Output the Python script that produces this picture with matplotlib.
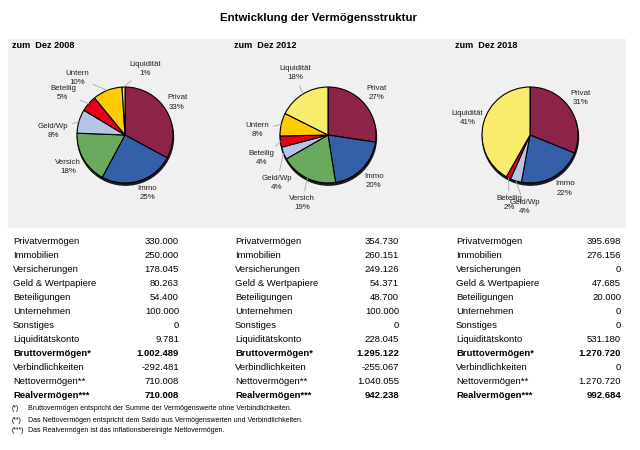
import matplotlib
matplotlib.use("Agg")
import matplotlib.pyplot as plt
import numpy as np

plt.rcParams['font.family'] = ['Liberation Sans', 'DejaVu Sans']

W, H = 640, 450

# Daten
jahre = ["zum  Dez 2008", "zum  Dez 2012", "zum  Dez 2018"]
kurz = ["Privat", "Immo", "Versich", "Geld/Wp", "Beteilig", "Untern", "Liquidität"]
farben = ["#8e2349", "#3460a8", "#6aaa5f", "#b4c6e8", "#e30016", "#ffcc00", "#f9ec6c"]

pie_2008 = [330000, 250000, 178045, 80263, 54400, 100000, 9781]
pie_2012 = [354730, 260151, 249126, 54371, 48700, 100000, 228045]
pie_2018 = [395698, 276156, 0, 47685, 20000, 0, 531180]
pct_2008 = [33, 25, 18, 8, 5, 10, 1]
pct_2012 = [27, 20, 19, 4, 4, 8, 18]
pct_2018 = [31, 22, 0, 4, 2, 0, 41]

zeilen = ["Privatvermögen", "Immobilien", "Versicherungen", "Geld & Wertpapiere",
          "Beteiligungen", "Unternehmen", "Sonstiges", "Liquiditätskonto",
          "Bruttovermögen*", "Verbindlichkeiten", "Nettovermögen**", "Realvermögen***"]
fett = ["Bruttovermögen*", "Realvermögen***"]
tab_2008 = [330000, 250000, 178045, 80263, 54400, 100000, 0, 9781, 1002489, -292481, 710008, 710008]
tab_2012 = [354730, 260151, 249126, 54371, 48700, 100000, 0, 228045, 1295122, -255067, 1040055, 942238]
tab_2018 = [395698, 276156, 0, 47685, 20000, 0, 0, 531180, 1270720, 0, 1270720, 992684]

fussnoten = [("(*)", "Bruttovermögen entspricht der Summe der Vermögenswerte ohne Verbindlichkeiten."),
             ("(**)", "Das Nettovermögen entspricht dem Saldo aus Vermögenswerten und Verbindlichkeiten."),
             ("(***)", "Das Realvermögen ist das inflationsbereinigte Nettovermögen.")]

# Label-Platzierung (Winkel, Abstand, Linie)
lab_2008 = [(32, 1.28, 0), (-69, 1.3, 0), (-151, 1.36, 0), (177, 1.5, 1),
            (146, 1.56, 1), (130, 1.56, 1), (73, 1.44, 1)]
lab_2012 = [(41, 1.33, 0), (-45, 1.35, 0), (-111, 1.52, 1), (-137, 1.46, 1),
            (-161, 1.46, 1), (176, 1.48, 1), (118, 1.46, 1)]
lab_2018 = [(36, 1.31, 0), (-57, 1.33, 0), None, (-94, 1.5, 1),
            (-107, 1.48, 1), None, (165, 1.35, 0)]


def fx(x):
    return x / W


def fy(y):
    return 1 - y / H


def fmt(v):
    return f"{v:,}".replace(",", ".")


fig = plt.figure(figsize=(6.4, 4.5), dpi=100)
hg = plt.Rectangle((fx(8), fy(227)), fx(625) - fx(8), fy(39) - fy(227),
                   transform=fig.transFigure, color="#f0f0f0", zorder=-10)
fig.patches.append(hg)

fig.text(fx(318), fy(18), "Entwicklung der Vermögensstruktur", ha="center", va="center",
         fontsize=8.2, fontweight="bold")

zentren = [(125, 135), (328, 135), (530, 135)]
head_x = [12, 234, 455]
wert_x = [179, 399, 621]
R = 48
L = 1.9

for k, (werte, pcts, labs) in enumerate([(pie_2008, pct_2008, lab_2008),
                                        (pie_2012, pct_2012, lab_2012),
                                        (pie_2018, pct_2018, lab_2018)]):
    fig.text(fx(head_x[k]), fy(45), jahre[k], ha="left", va="center",
             fontsize=6.6, fontweight="bold")

    cx, cy = zentren[k]
    ax = fig.add_axes([fx(cx - R * L), fy(cy + R * L), 2 * R * L / W, 2 * R * L / H])
    ax.patch.set_visible(False)

    idx = [i for i, v in enumerate(werte) if v > 0]
    vals = [werte[i] for i in idx]
    wedges, _ = ax.pie(vals, colors=[farben[i] for i in idx], startangle=90,
                       counterclock=False, radius=1.0,
                       wedgeprops=dict(edgecolor="black", linewidth=0.8))
    # Schatten
    ax.add_patch(plt.Circle((0.01, -0.045), 1.0, color="#1a1a1a", zorder=0))
    ax.set_xlim(-L, L)
    ax.set_ylim(-L, L)
    ax.set_aspect("equal")
    ax.axis("off")

    for w, i in zip(wedges, idx):
        w.set_zorder(2)
        mid = np.deg2rad((w.theta1 + w.theta2) / 2)
        ang, dist, linie = labs[i]
        tx, ty = dist * np.cos(np.deg2rad(ang)), dist * np.sin(np.deg2rad(ang))
        props = None
        if linie:
            props = dict(arrowstyle="-", color="#a8a8a8", lw=0.6, shrinkA=1, shrinkB=0)
        ax.annotate(f"{kurz[i]}\n{pcts[i]}%", xy=(np.cos(mid), np.sin(mid)),
                    xytext=(tx, ty), ha="center", va="center", fontsize=5.7,
                    color="#202020", linespacing=1.45, arrowprops=props,
                    annotation_clip=False)

    tab = [tab_2008, tab_2012, tab_2018][k]
    for j, name in enumerate(zeilen):
        y = 242 + 14 * j
        fw = "bold" if name in fett else "normal"
        fig.text(fx(head_x[k] + 1), fy(y), name, ha="left", va="center",
                 fontsize=6.8, fontweight=fw)
        fig.text(fx(wert_x[k]), fy(y), fmt(tab[j]), ha="right", va="center",
                 fontsize=6.8, fontweight=fw)

for j, (a, b) in enumerate(fussnoten):
    fig.text(fx(12), fy(409 + 11 * j), a, ha="left", va="center", fontsize=5)
    fig.text(fx(28), fy(409 + 11 * j), b, ha="left", va="center", fontsize=5)

fig.savefig("out.png", dpi=100)
